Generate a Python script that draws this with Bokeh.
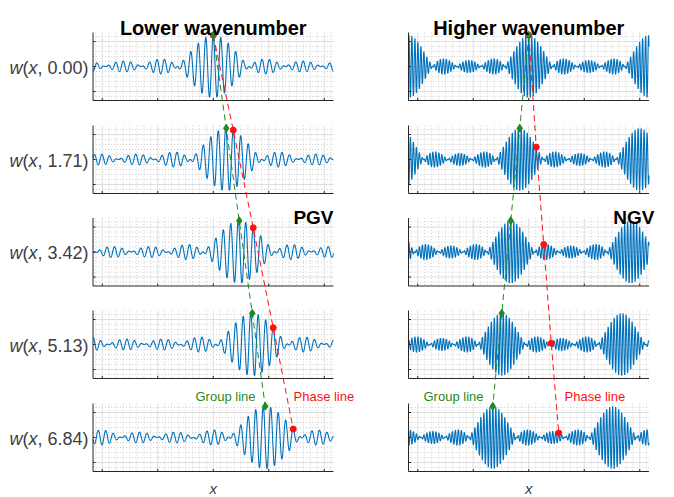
import numpy as np
from bokeh.plotting import figure
from bokeh.models import Range1d
from bokeh.embed import file_html
from bokeh.resources import INLINE
from bokeh.core.properties import value

# ---------------- data ----------------
times = [0.00, 1.71, 3.42, 5.13, 6.84]
time_labels = ["0.00", "1.71", "3.42", "5.13", "6.84"]
titles = ["Lower wavenumber", "Higher wavenumber"]
regime_labels = ["PGV", "NGV"]
x_ticks = [-12, -6, 0, 6, 12]
y_ticks = [-1, 0, 1]
x_lim = [-13.0, 13.0]
y_lim = [-1.36, 1.36]

# wave-packet parameters (per column: lower / higher wavenumber)
carrier_k = [7.75, 19.4]
mode_step = [0.2691, 0.4844]
mode_index = [[-2.5, -1.5, -0.5, 0.5, 1.5, 2.5], [-2, -1, 0, 1, 2]]
phase_speed = [1.264, 0.474]
group_speed = [0.822, -0.569]
peak_amp = [1.25, 1.25]

# ---------------- style / layout ----------------
FONT = "Liberation Sans"
BLUE = "#0072BD"
GREEN = "#1F8A1F"
RED = "#FF1010"
AX = "#262626"
LABEL = "#404040"
MAJOR = "#dedede"
MINOR = "#c4c4c4"

col_x0 = [92.5, 408.0]
pw = 240.5
row_top = [32.0, 125.0, 217.5, 310.0, 403.0]
ph = 68.0
tick_len = 2.5


def gx(c, x):
    return col_x0[c] + (np.asarray(x, dtype=float) - x_lim[0]) / (x_lim[1] - x_lim[0]) * pw


def gy(r, y):
    return row_top[r] + ph / 2 - np.asarray(y, dtype=float) * ph / (y_lim[1] - y_lim[0])


def wave(c, x, t):
    x = np.atleast_1d(np.asarray(x, dtype=float))
    js = np.array(mode_index[c], dtype=float)
    ks = carrier_k[c] + js * mode_step[c]
    om = carrier_k[c] * phase_speed[c] + group_speed[c] * js * mode_step[c]
    amp = peak_amp[c] / len(js)
    return amp * np.cos(np.outer(x, ks) - om * t).sum(axis=1)


p = figure(width=674, height=497, x_range=Range1d(0, 674), y_range=Range1d(497, 0),
           output_backend="svg", toolbar_location=None, min_border=0,
           x_axis_location=None, y_axis_location=None)
p.grid.visible = False
p.outline_line_color = None
p.background_fill_color = "white"
p.border_fill_color = "white"

minor_x = [v for v in np.arange(-12.75, 12.76, 0.75) if abs(v / 6 - round(v / 6)) > 1e-9]
minor_y = [v for v in np.arange(-1.2, 1.21, 0.2) if abs(v - round(v)) > 1e-9]

mnx, mny, mjx, mjy, axx, axy, tkx, tky = [], [], [], [], [], [], [], []
for c in range(2):
    for r in range(5):
        top, bot = gy(r, y_lim[1]), gy(r, y_lim[0])
        left, right = gx(c, x_lim[0]), gx(c, x_lim[1])
        for v in minor_x:
            mnx.append([gx(c, v)] * 2); mny.append([top, bot])
        for v in minor_y:
            mnx.append([left, right]); mny.append([gy(r, v)] * 2)
        for v in x_ticks:
            mjx.append([gx(c, v)] * 2); mjy.append([top, bot])
            tkx.append([gx(c, v)] * 2); tky.append([bot, bot - tick_len])
        for v in y_ticks:
            mjx.append([left, right]); mjy.append([gy(r, v)] * 2)
            tkx.append([left, left + tick_len]); tky.append([gy(r, v)] * 2)
        axx.append([left, left, right]); axy.append([top, bot, bot])

p.multi_line(mnx, mny, line_color=MINOR, line_width=0.8, line_dash="1 2")
p.multi_line(mjx, mjy, line_color=MAJOR, line_width=1)

xs = np.linspace(x_lim[0], x_lim[1], 2400)
wx, wy = [], []
for c in range(2):
    for r, t in enumerate(times):
        wx.append(gx(c, xs)); wy.append(gy(r, wave(c, xs, t)))
p.multi_line(wx, wy, line_color=BLUE, line_width=1.1)

p.multi_line(axx, axy, line_color=AX, line_width=1)
p.multi_line(tkx, tky, line_color=AX, line_width=1)

# group / phase tracking lines and markers
for c in range(2):
    g_x = [float(gx(c, group_speed[c] * t)) for t in times]
    g_y = [float(gy(r, peak_amp[c])) for r in range(5)]
    p_x = [float(gx(c, phase_speed[c] * t)) for t in times]
    p_y = [float(gy(r, abs(wave(c, phase_speed[c] * t, t)[0]))) for r, t in enumerate(times)]
    p.line(p_x, p_y, line_color=RED, line_width=1, line_dash="6 4")
    p.line(g_x, g_y, line_color=GREEN, line_width=1, line_dash="6 4")
    p.scatter(p_x, p_y, marker="circle", size=6, color=RED)
    p.scatter(g_x, g_y, marker="diamond", size=8, color=GREEN)

# titles
for c in range(2):
    p.text(x=[float(gx(c, 0))], y=[27], text=[titles[c]], text_align="center",
           text_baseline="alphabetic", text_font=value(FONT), text_font_style="bold",
           text_font_size="20px", text_color="black")

# regime labels
p.text(x=[333, 654], y=[217, 217], text=regime_labels, text_align="right",
       text_baseline="alphabetic", text_font=value(FONT), text_font_style="bold",
       text_font_size="19px", text_color="black")

# group / phase line labels
p.text(x=[195, 423], y=[396, 396], text=["Group line", "Group line"], text_align="left",
       text_baseline="alphabetic", text_font=value(FONT), text_font_size="13px", text_color=GREEN)
p.text(x=[293, 564], y=[396, 396], text=["Phase line", "Phase line"], text_align="left",
       text_baseline="alphabetic", text_font=value(FONT), text_font_size="13px", text_color=RED)

# x labels
p.text(x=[float(gx(0, 0)), float(gx(1, 0))], y=[488, 488], text=["x", "x"], text_align="center",
       text_baseline="alphabetic", text_font=value(FONT), text_font_style="italic",
       text_font_size="15px", text_color=LABEL)

# row labels w(x, t)
lab_x = [88.0] * 5
lab_y = [float(gy(r, 0)) + 1 for r in range(5)]
fs = 18
w_tail = [", " + s + ")" for s in time_labels]
p.text(x=lab_x, y=lab_y, text=w_tail, text_align="right", text_baseline="middle",
       text_font=value(FONT), text_font_size=f"{fs}px", text_color=LABEL)
off1 = -2.835 * fs
p.text(x=lab_x, y=lab_y, text=["x"] * 5, x_offset=off1, text_align="right", text_baseline="middle",
       text_font=value(FONT), text_font_style="italic", text_font_size=f"{fs}px", text_color=LABEL)
off2 = off1 - 0.5 * fs
p.text(x=lab_x, y=lab_y, text=["("] * 5, x_offset=off2, text_align="right", text_baseline="middle",
       text_font=value(FONT), text_font_size=f"{fs}px", text_color=LABEL)
off3 = off2 - 0.333 * fs
p.text(x=lab_x, y=lab_y, text=["w"] * 5, x_offset=off3, text_align="right", text_baseline="middle",
       text_font=value(FONT), text_font_style="italic", text_font_size=f"{fs}px", text_color=LABEL)

open("out.html", "w").write(file_html(p, INLINE))
